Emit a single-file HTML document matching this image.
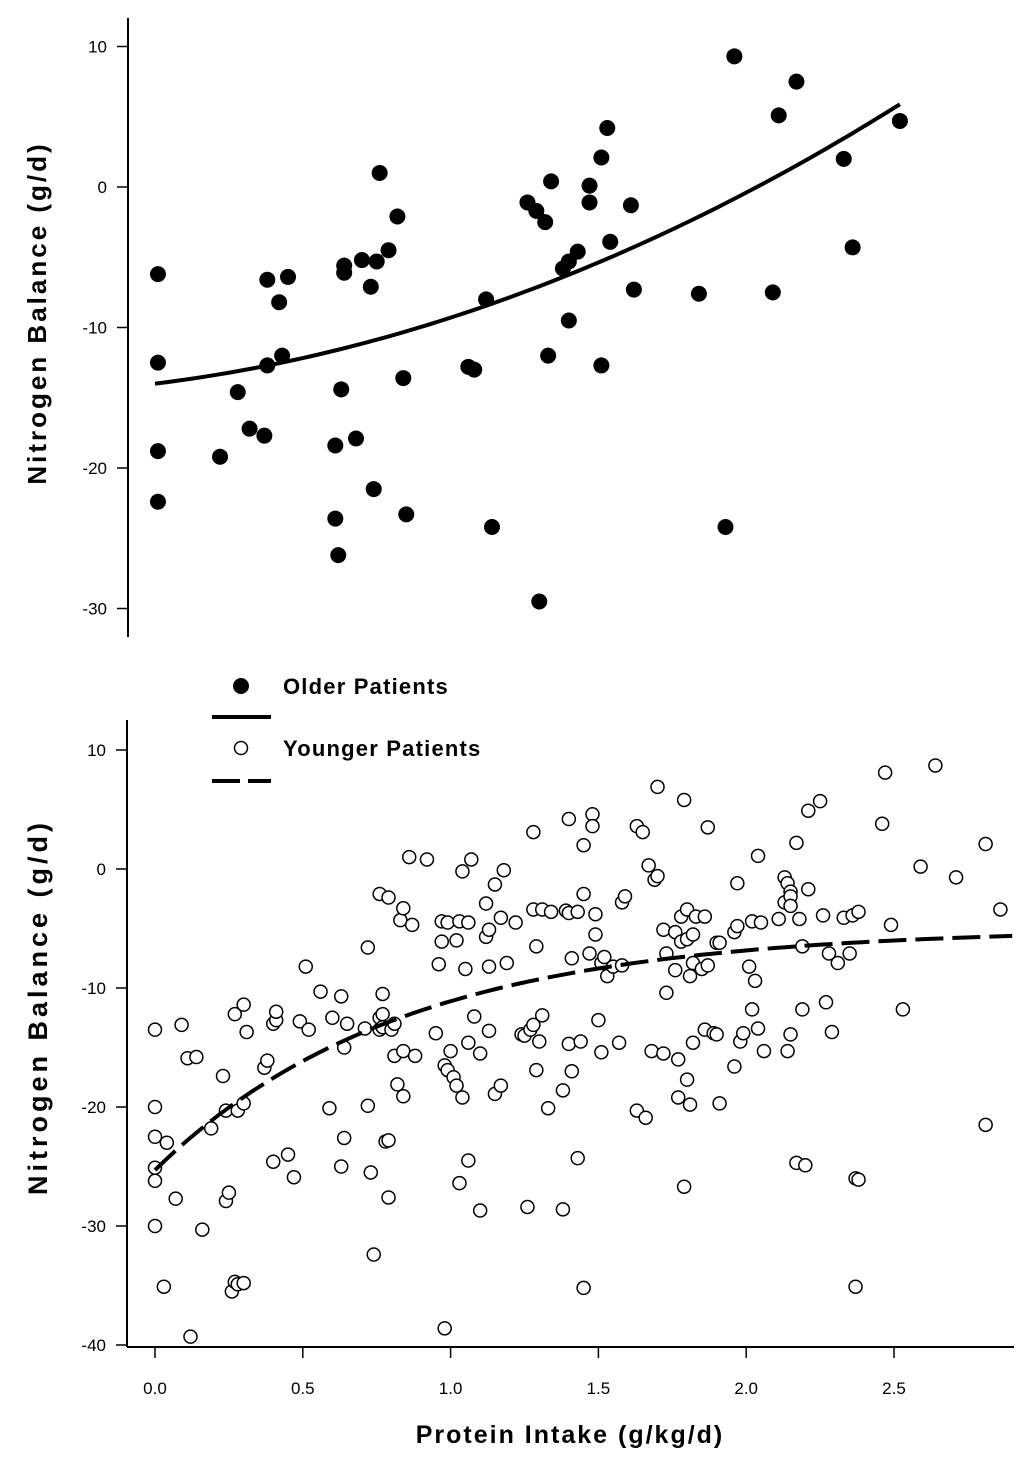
<!DOCTYPE html>
<html><head><meta charset="utf-8">
<style>
html,body{margin:0;padding:0;background:#fff;}
svg{display:block;font-family:"Liberation Sans",Arial,sans-serif;}
</style></head>
<body>
<svg id="chart" width="1024" height="1461" viewBox="0 0 1024 1461"></svg>
<script>
// ---- data ----
const xTickLabels = ["0.0","0.5","1.0","1.5","2.0","2.5"];
const xTickValues = [0,0.5,1.0,1.5,2.0,2.5];
const topYTicks = [10,0,-10,-20,-30];
const botYTicks = [10,0,-10,-20,-30,-40];
const olderX = [0.01,0.01,0.01,0.01,0.22,0.28,0.32,0.37,0.38,0.38,0.42,0.43,0.45,0.61,0.61,0.62,0.63,0.64,0.64,0.68,0.70,0.73,0.74,0.75,0.76,0.79,0.82,0.84,0.85,1.06,1.08,1.12,1.14,1.26,1.29,1.30,1.32,1.33,1.34,1.38,1.40,1.40,1.43,1.47,1.47,1.51,1.51,1.53,1.54,1.61,1.62,1.84,1.93,1.96,2.09,2.11,2.17,2.33,2.36,2.52];
const olderY = [-6.2,-12.5,-18.8,-22.4,-19.2,-14.6,-17.2,-17.7,-6.6,-12.7,-8.2,-12.0,-6.4,-18.4,-23.6,-26.2,-14.4,-5.6,-6.1,-17.9,-5.2,-7.1,-21.5,-5.3,1.0,-4.5,-2.1,-13.6,-23.3,-12.8,-13.0,-8.0,-24.2,-1.1,-1.7,-29.5,-2.5,-12.0,0.4,-5.8,-5.3,-9.5,-4.6,0.1,-1.1,2.1,-12.7,4.2,-3.9,-1.3,-7.3,-7.6,-24.2,9.3,-7.5,5.1,7.5,2.0,-4.3,4.7];
const youngerX = [0.00,0.00,0.00,0.00,0.00,0.00,0.04,0.03,0.07,0.09,0.11,0.12,0.14,0.16,0.19,0.23,0.24,0.24,0.25,0.26,0.27,0.27,0.28,0.28,0.30,0.30,0.30,0.31,0.37,0.38,0.40,0.40,0.41,0.41,0.45,0.47,0.49,0.51,0.52,0.56,0.59,0.60,0.63,0.63,0.64,0.64,0.65,0.71,0.72,0.72,0.73,0.74,0.76,0.76,0.76,0.77,0.77,0.77,0.78,0.79,0.79,0.79,0.80,0.81,0.81,0.82,0.83,0.84,0.84,0.84,0.86,0.87,0.88,0.92,0.95,0.96,0.97,0.97,0.98,0.98,0.99,0.99,1.00,1.01,1.02,1.02,1.03,1.03,1.04,1.04,1.05,1.06,1.06,1.06,1.07,1.08,1.10,1.10,1.12,1.12,1.13,1.13,1.13,1.15,1.15,1.17,1.17,1.18,1.19,1.22,1.24,1.25,1.26,1.27,1.28,1.28,1.28,1.29,1.29,1.30,1.31,1.31,1.33,1.34,1.38,1.38,1.39,1.40,1.40,1.40,1.41,1.41,1.43,1.43,1.44,1.45,1.45,1.45,1.47,1.48,1.48,1.49,1.49,1.50,1.51,1.51,1.52,1.53,1.55,1.57,1.58,1.58,1.59,1.63,1.63,1.65,1.66,1.67,1.68,1.69,1.70,1.70,1.72,1.72,1.73,1.73,1.76,1.76,1.77,1.77,1.78,1.78,1.79,1.79,1.80,1.80,1.80,1.81,1.81,1.82,1.82,1.82,1.83,1.85,1.86,1.86,1.87,1.87,1.89,1.90,1.90,1.91,1.91,1.96,1.96,1.97,1.97,1.98,1.99,2.01,2.02,2.02,2.03,2.04,2.04,2.05,2.06,2.11,2.13,2.13,2.14,2.14,2.15,2.15,2.15,2.15,2.17,2.17,2.18,2.19,2.19,2.20,2.21,2.21,2.25,2.26,2.27,2.28,2.29,2.31,2.33,2.35,2.36,2.37,2.37,2.38,2.38,2.46,2.47,2.49,2.53,2.59,2.64,2.71,2.81,2.81,2.86];
const youngerY = [-13.5,-20.0,-22.5,-25.1,-26.2,-30.0,-23.0,-35.1,-27.7,-13.1,-15.9,-39.3,-15.8,-30.3,-21.8,-17.4,-20.3,-27.9,-27.2,-35.5,-12.2,-34.7,-20.3,-34.9,-34.8,-19.7,-11.4,-13.7,-16.7,-16.1,-24.6,-13.0,-12.7,-12.0,-24.0,-25.9,-12.8,-8.2,-13.5,-10.3,-20.1,-12.5,-10.7,-25.0,-22.6,-15.0,-13.0,-13.4,-19.9,-6.6,-25.5,-32.4,-12.5,-2.1,-13.5,-10.5,-12.2,-13.3,-22.9,-27.6,-22.8,-2.4,-13.5,-13.0,-15.7,-18.1,-4.3,-19.1,-3.3,-15.3,1.0,-4.7,-15.7,0.8,-13.8,-8.0,-6.1,-4.4,-16.5,-38.6,-4.5,-16.9,-15.3,-17.5,-18.2,-6.0,-4.4,-26.4,-19.2,-0.2,-8.4,-14.6,-24.5,-4.5,0.8,-12.4,-28.7,-15.5,-5.7,-2.9,-5.1,-8.2,-13.6,-1.3,-18.9,-18.2,-4.1,-0.1,-7.9,-4.5,-13.9,-14.0,-28.4,-13.5,3.1,-3.4,-13.1,-16.9,-6.5,-14.5,-12.3,-3.4,-20.1,-3.6,-18.6,-28.6,-3.5,4.2,-3.7,-14.7,-7.5,-17.0,-3.6,-24.3,-14.5,2.0,-35.2,-2.1,-7.1,4.6,3.6,-5.5,-3.8,-12.7,-7.9,-15.4,-7.4,-9.0,-8.2,-14.6,-8.1,-2.8,-2.3,3.6,-20.3,3.1,-20.9,0.3,-15.3,-0.9,6.9,-0.6,-15.5,-5.1,-10.4,-7.1,-5.3,-8.5,-16.0,-19.2,-4.0,-6.1,5.8,-26.7,-17.7,-5.9,-3.4,-9.0,-19.8,-7.9,-14.6,-5.5,-4.0,-8.4,-4.0,-13.5,-8.1,3.5,-13.8,-13.9,-6.2,-19.7,-6.2,-16.6,-5.3,-4.8,-1.2,-14.5,-13.8,-8.2,-4.4,-11.8,-9.4,1.1,-13.4,-4.5,-15.3,-4.2,-0.7,-2.8,-1.2,-15.3,-1.9,-13.9,-2.3,-3.1,-24.7,2.2,-4.2,-6.5,-11.8,-24.9,4.9,-1.7,5.7,-3.9,-11.2,-7.1,-13.7,-7.9,-4.1,-7.1,-3.9,-26.0,-35.1,-3.6,-26.1,3.8,8.1,-4.7,-11.8,0.2,8.7,-0.7,-21.5,2.1,-3.4];
const olderFit = [-14.0, 2.6, 2.1];      // quadratic coefficients c0,c1,c2
const olderFitRange = [0, 2.52];
const youngerFit = [-5.0, 20.3, 1.2];    // A - B*exp(-k x)
const youngerFitRange = [0, 2.9];

// ---- scales ----
const X0 = 155, XPX = 295.6;
const xS = v => X0 + v * XPX;
const yTop = v => 187 - v * 14.05;
const yBot = v => 869 - v * 11.9;

const svg = document.getElementById('chart');
const NS = 'http://www.w3.org/2000/svg';
function mk(tag, attrs, parent) {
  const e = document.createElementNS(NS, tag);
  for (const k in attrs) e.setAttribute(k, attrs[k]);
  (parent || svg).appendChild(e);
  return e;
}

// ---- top panel ----
const gTop = mk('g', {});


const topAxis = mk('line', {x1:128, y1:18, x2:128, y2:637, stroke:'#000', 'stroke-width':2}, gTop);


topYTicks.forEach(t => {
  const tk = mk('line', {x1:117, x2:128, y1:yTop(t), y2:yTop(t), stroke:'#000', 'stroke-width':1.5}, gTop);
  
  
  const tl = mk('text', {x:107, y:yTop(t)+6, 'text-anchor':'end', 'font-size':17}, gTop);
  tl.textContent = t;
  
  
});
const tTitle = mk('text', {x:0, y:0, transform:'translate(46,313) rotate(-90)', 'text-anchor':'middle', 'font-size':26, 'font-weight':'bold', 'letter-spacing':3}, gTop);
tTitle.textContent = 'Nitrogen Balance (g/d)';



olderX.forEach((x, i) => {
  const c = mk('circle', {cx:xS(x), cy:yTop(olderY[i]), r:8, fill:'#000'}, gTop);
  
  
});
let d = '';
for (let i = 0; i <= 60; i++) {
  const x = olderFitRange[0] + (olderFitRange[1]-olderFitRange[0]) * i / 60;
  const y = olderFit[0] + olderFit[1]*x + olderFit[2]*x*x;
  d += (i ? 'L' : 'M') + xS(x).toFixed(1) + ',' + yTop(y).toFixed(1);
}
const oLine = mk('path', {d:d, fill:'none', stroke:'#000', 'stroke-width':4}, gTop);



// ---- legend ----
const gL = mk('g', {});


const l1 = mk('circle', {cx:241, cy:686, r:8, fill:'#000'}, gL);


const l1t = mk('text', {x:283, y:694, 'font-size':22, 'font-weight':'bold', 'letter-spacing':1.2}, gL);
l1t.textContent = 'Older Patients';


const l1l = mk('line', {x1:212, x2:271, y1:717, y2:717, stroke:'#000', 'stroke-width':4}, gL);


const l2 = mk('circle', {cx:241, cy:748, r:6.5, fill:'#fff', stroke:'#000', 'stroke-width':1.5}, gL);


const l2t = mk('text', {x:283, y:756, 'font-size':22, 'font-weight':'bold', 'letter-spacing':1.2}, gL);
l2t.textContent = 'Younger Patients';


const l2l = mk('line', {x1:212, x2:271, y1:781, y2:781, stroke:'#000', 'stroke-width':4, 'stroke-dasharray':'28,8'}, gL);



// ---- bottom panel ----
const gB = mk('g', {});


const bAx = mk('line', {x1:127, y1:720, x2:127, y2:1347, stroke:'#000', 'stroke-width':2}, gB);


const xAx = mk('line', {x1:127, y1:1347, x2:1014, y2:1347, stroke:'#000', 'stroke-width':2}, gB);


botYTicks.forEach(t => {
  const tk = mk('line', {x1:116, x2:127, y1:yBot(t), y2:yBot(t), stroke:'#000', 'stroke-width':1.5}, gB);
  
  
  const tl = mk('text', {x:106, y:yBot(t)+6, 'text-anchor':'end', 'font-size':17}, gB);
  tl.textContent = t;
  
  
});
xTickValues.forEach((v, i) => {
  const tk = mk('line', {x1:xS(v), x2:xS(v), y1:1347, y2:1358, stroke:'#000', 'stroke-width':1.5}, gB);
  
  
  const tl = mk('text', {x:xS(v), y:1394, 'text-anchor':'middle', 'font-size':17}, gB);
  tl.textContent = xTickLabels[i];
  
  
});
const bTitle = mk('text', {x:0, y:0, transform:'translate(47,1007) rotate(-90)', 'text-anchor':'middle', 'font-size':27, 'font-weight':'bold', 'letter-spacing':4}, gB);
bTitle.textContent = 'Nitrogen Balance (g/d)';


const xTitle = mk('text', {x:570, y:1443, 'text-anchor':'middle', 'font-size':25, 'font-weight':'bold', 'letter-spacing':2}, gB);
xTitle.textContent = 'Protein Intake (g/kg/d)';



youngerX.forEach((x, i) => {
  const c = mk('circle', {cx:xS(x), cy:yBot(youngerY[i]), r:6.5, fill:'#fff', stroke:'#000', 'stroke-width':1.5}, gB);
  
  
});
d = '';
for (let i = 0; i <= 80; i++) {
  const x = youngerFitRange[0] + (youngerFitRange[1]-youngerFitRange[0]) * i / 80;
  const y = youngerFit[0] - youngerFit[1]*Math.exp(-youngerFit[2]*x);
  d += (i ? 'L' : 'M') + xS(x).toFixed(1) + ',' + yBot(y).toFixed(1);
}
const yLine = mk('path', {d:d, fill:'none', stroke:'#000', 'stroke-width':4, 'stroke-dasharray':'28,9'}, gB);


</script>
</body></html>
